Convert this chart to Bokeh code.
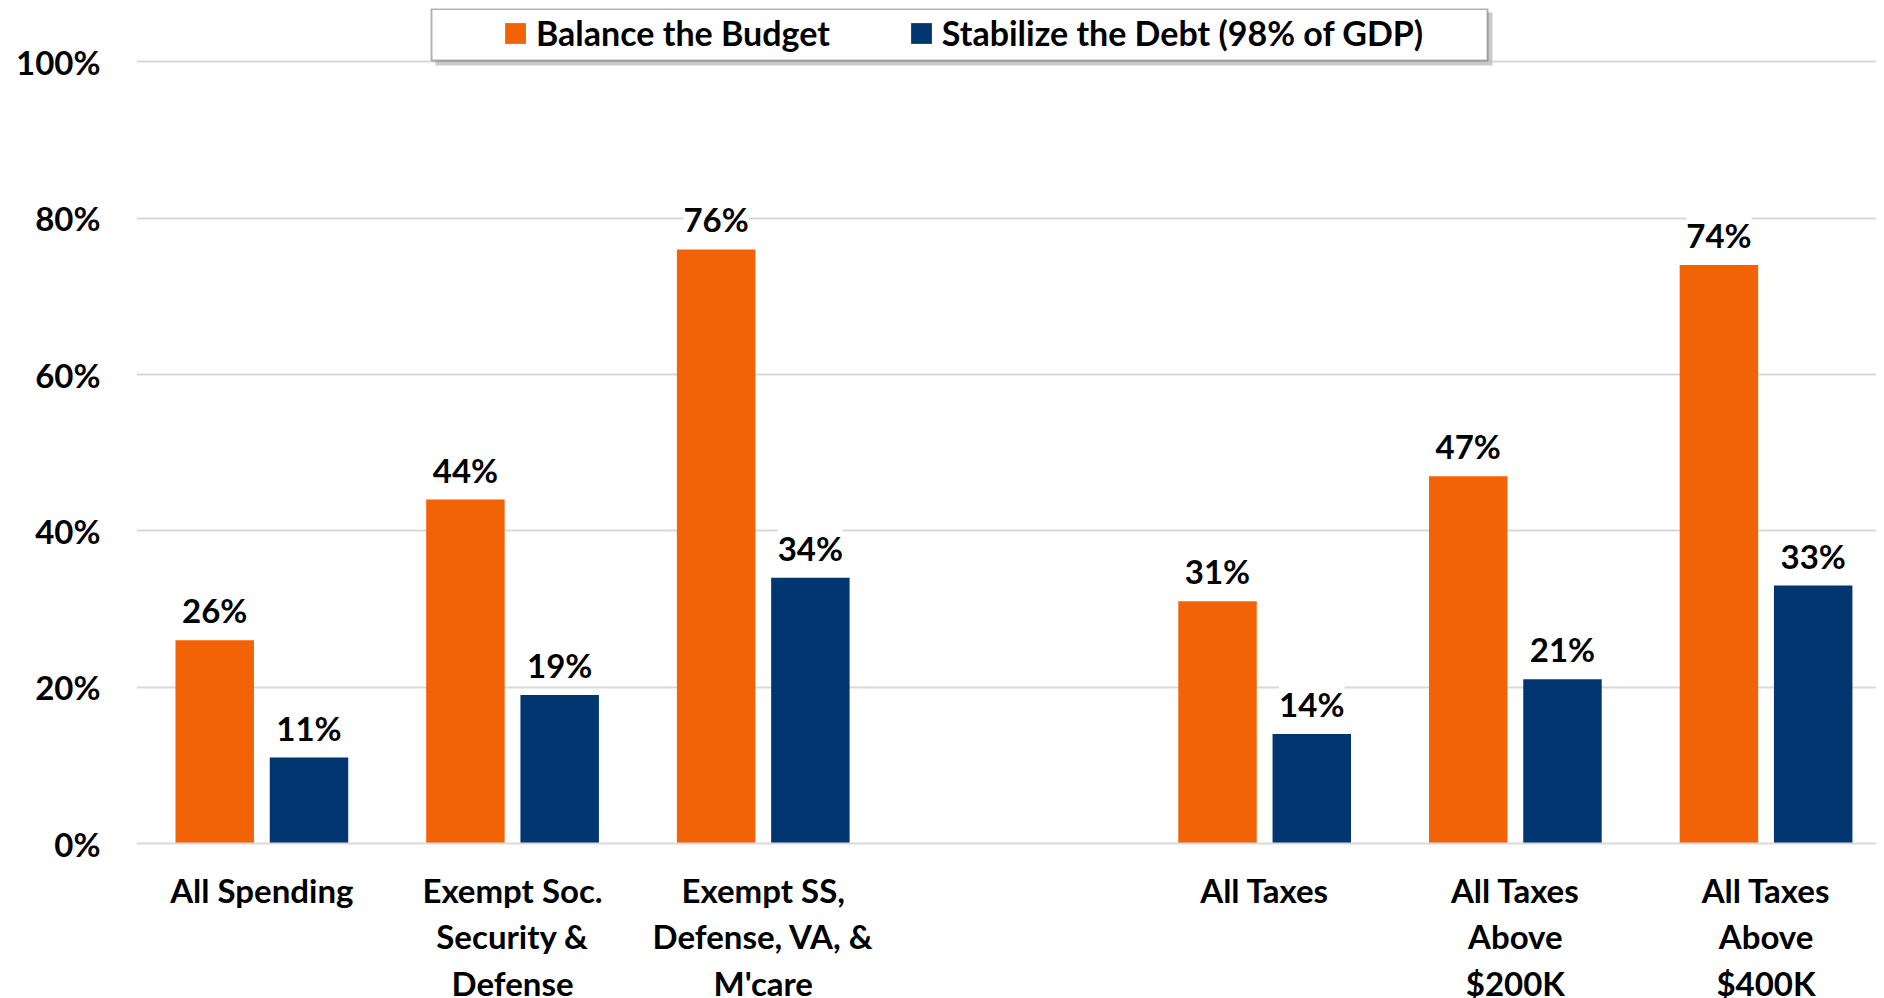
from bokeh.plotting import figure
from bokeh.models import (ColumnDataSource, LabelSet, Range1d, FixedTicker,
                          PrintfTickFormatter, Legend, LegendItem, BoxAnnotation)
from bokeh.core.properties import value
from bokeh.embed import file_html
from bokeh.resources import INLINE

# ---------------- data ----------------
categories = ["All Spending",
              "Exempt Soc.\nSecurity &\nDefense",
              "Exempt SS,\nDefense, VA, &\nM'care",
              "All Taxes",
              "All Taxes\nAbove\n$200K",
              "All Taxes\nAbove\n$400K"]
balance_budget = [26, 44, 76, 31, 47, 74]
stabilize_debt = [11, 19, 34, 14, 21, 33]
y_ticks = [0, 20, 40, 60, 80, 100]
series_names = ["Balance the Budget", "Stabilize the Debt (98% of GDP)"]

# ---------------- style ----------------
ORANGE = "#F26307"
BLUE = "#023671"
GRID = "#D9D9D9"
FONT = "Lato"

# slot positions: spending group, one empty slot, tax group
positions = [0, 1, 2, 4, 5, 6]
offset = 0.188
bar_w = 0.313

LEFT, TOP = 136, 8
FRAME_W, FRAME_H = 1740, 835
PX_X = 250.7            # pixels per category slot
X0 = -0.5
X1 = X0 + FRAME_W / PX_X
PX_Y = 7.816            # pixels per percentage point
Y1 = FRAME_H / PX_Y

p = figure(frame_width=FRAME_W, frame_height=FRAME_H,
           x_range=Range1d(X0, X1), y_range=Range1d(0, Y1),
           output_backend="svg", toolbar_location=None,
           min_border_left=LEFT, min_border_right=0, min_border_top=TOP,
           min_border_bottom=0)
p.outline_line_color = None
p.background_fill_color = "white"

src_o = ColumnDataSource(dict(x=[v - offset for v in positions], top=balance_budget,
                              lab=[f"{v}%" for v in balance_budget]))
src_b = ColumnDataSource(dict(x=[v + offset for v in positions], top=stabilize_debt,
                              lab=[f"{v}%" for v in stabilize_debt]))

r_o = p.vbar(x="x", top="top", width=bar_w, bottom=0, source=src_o,
             fill_color=ORANGE, line_color=None)
r_b = p.vbar(x="x", top="top", width=bar_w, bottom=0, source=src_b,
             fill_color=BLUE, line_color=None)

for src in (src_o, src_b):
    p.add_layout(LabelSet(x="x", y="top", text="lab", source=src, y_offset=17,
                          text_align="center", text_baseline="alphabetic",
                          text_font=value(FONT), text_font_style="bold",
                          text_font_size="33px", text_color="black",
                          background_fill_color="white"))

# axes
p.xgrid.grid_line_color = None
p.ygrid.grid_line_color = GRID
p.ygrid.grid_line_width = 2
p.ygrid.ticker = FixedTicker(ticks=y_ticks)

p.yaxis.ticker = FixedTicker(ticks=y_ticks)
p.yaxis.formatter = PrintfTickFormatter(format="%d%%")
p.yaxis.axis_line_color = None
p.yaxis.major_tick_line_color = None
p.yaxis.minor_tick_line_color = None
p.yaxis.major_tick_out = 0
p.yaxis.major_label_standoff = 36
p.yaxis.major_label_text_font = FONT
p.yaxis.major_label_text_font_style = "bold"
p.yaxis.major_label_text_font_size = "33px"
p.yaxis.major_label_text_color = "black"

p.xaxis.ticker = FixedTicker(ticks=positions)
p.xaxis.major_label_overrides = {pos: lab for pos, lab in zip(positions, categories)}
p.xaxis.axis_line_color = GRID
p.xaxis.axis_line_width = 2
p.xaxis.major_tick_line_color = None
p.xaxis.minor_tick_line_color = None
p.xaxis.major_tick_out = 0
p.xaxis.major_label_standoff = 26
p.xaxis.major_label_text_font = FONT
p.xaxis.major_label_text_font_style = "bold"
p.xaxis.major_label_text_font_size = "33px"
p.xaxis.major_label_text_color = "black"
p.xaxis.major_label_text_line_height = 1.17

# legend frame (with soft shadow), positioned from pixel layout
def px_to_x(px):
    return X0 + (px - LEFT) / PX_X

def px_to_y(py):
    return (TOP + FRAME_H - py) / PX_Y

p.add_layout(BoxAnnotation(left=px_to_x(435), right=px_to_x(1492),
                           top=px_to_y(12), bottom=px_to_y(65),
                           fill_color="#BDBDBD", fill_alpha=0.8, line_color=None))
p.add_layout(BoxAnnotation(left=px_to_x(431), right=px_to_x(1487),
                           top=px_to_y(8.5), bottom=px_to_y(60),
                           fill_color="white", fill_alpha=1.0,
                           line_color="black", line_width=2))

legend = Legend(items=[LegendItem(label=series_names[0], renderers=[r_o]),
                       LegendItem(label=series_names[1], renderers=[r_b])],
                orientation="horizontal", location=(366, 790),
                border_line_color=None, background_fill_alpha=0,
                padding=0, margin=0, spacing=78,
                glyph_width=26, glyph_height=26, label_standoff=8,
                label_text_font=FONT, label_text_font_style="bold",
                label_text_font_size="34px", label_text_color="black")
p.add_layout(legend)

open("out.html", "w").write(file_html(p, INLINE))
